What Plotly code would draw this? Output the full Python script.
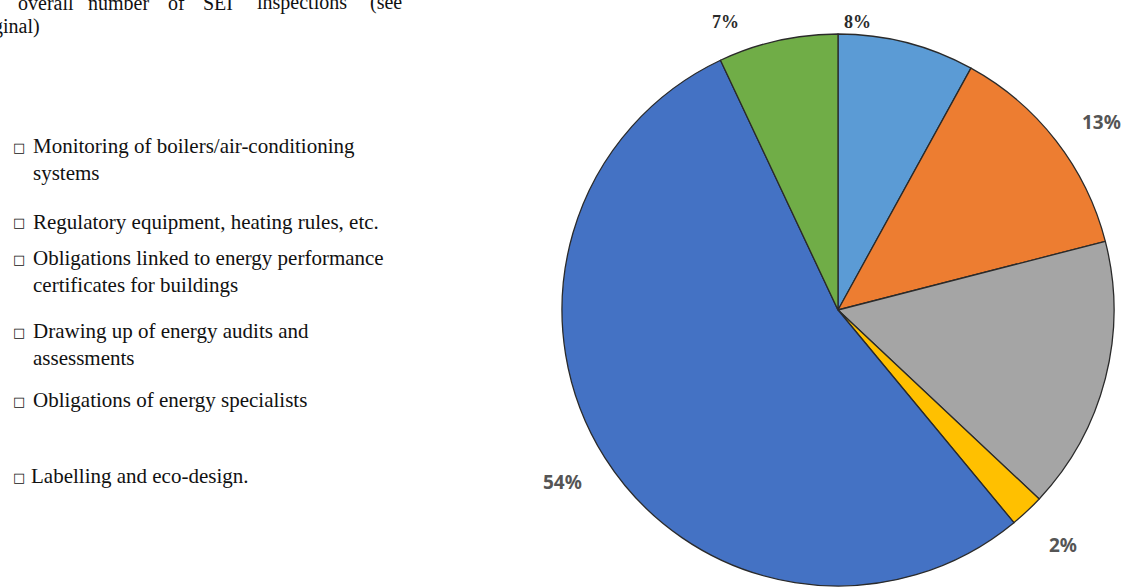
import plotly.graph_objects as go

# Share of SEI inspections by topic (clockwise from 12 o'clock)
categories = [
    "Monitoring of boilers/air-conditioning systems",
    "Regulatory equipment, heating rules, etc.",
    "Obligations linked to energy performance certificates for buildings",
    "Drawing up of energy audits and assessments",
    "Obligations of energy specialists",
    "Labelling and eco-design.",
]
shares = [8, 13, 16, 2, 54, 7]
slice_colors = ["#5B9BD5", "#ED7D31", "#A5A5A5", "#FFC000", "#4472C4", "#70AD47"]

# Legend entries, each wrapped as printed beside the chart
legend_lines = [
    ["Monitoring of boilers/air-conditioning", "systems"],
    ["Regulatory equipment, heating rules, etc."],
    ["Obligations linked to energy performance", "certificates for buildings"],
    ["Drawing up of energy audits and", "assessments"],
    ["Obligations of energy specialists"],
    ["Labelling and eco-design."],
]

W, H = 1124, 588

fig = go.Figure(
    go.Pie(
        labels=categories,
        values=shares,
        sort=False,
        direction="clockwise",
        rotation=0,
        marker=dict(colors=slice_colors, line=dict(color="#2a2a2a", width=1.3)),
        textinfo="none",
        hoverinfo="label+percent",
        showlegend=False,
        domain=dict(x=[562 / W, 1114 / W], y=[1 - 586 / H, 1 - 34 / H]),
    )
)

annotations = []


def px(x, y, text, size, family, color, bold=False, xanchor="left"):
    annotations.append(
        dict(
            x=x / W, y=1 - y / H, xref="paper", yref="paper",
            text=f"<b>{text}</b>" if bold else text,
            showarrow=False, xanchor=xanchor, yanchor="middle",
            font=dict(size=size, family=family, color=color),
        )
    )


serif = "Liberation Serif"
sans = "Noto Sans"

# Running text above the legend (justified paragraph)
header_words = [("overall", 16), ("number", 86), ("of", 166), ("SEI", 201),
                ("inspections", 255), ("(see", 368)]
for word, x in header_words:
    px(x, 3, word, 20, serif, "#111")
px(-9, 26, "ginal)", 20, serif, "#111")

# Legend block: bullet square, first line, optional continuation line
entry_y = [146, 222, 258, 331, 400, 476]
for i, (lines, y) in enumerate(zip(legend_lines, entry_y)):
    last = i == len(legend_lines) - 1
    px(11, y + 1, "□", 13, "DejaVu Sans", "#111")
    x_text = 29 if last else 31
    px(x_text, y, lines[0], 21, serif, "#111")
    if len(lines) > 1:
        px(31, y + 27, lines[1], 21, serif, "#111")

# Percentage labels around the pie (the grey slice carries no label)
label_pos = [(857, 22, serif, "#2b2b2b"), (1101, 122, sans, "#555555"),
             None, (1063, 545, sans, "#555555"), (562, 482, sans, "#555555"),
             (725, 22, serif, "#2b2b2b")]
for v, pos in zip(shares, label_pos):
    if pos is None:
        continue
    x, y, fam, col = pos
    px(x, y, f"{v}%", 18 if fam == serif else 19, fam, col, bold=True, xanchor="center")

fig.update_layout(
    width=W, height=H,
    margin=dict(l=0, r=0, t=0, b=0),
    paper_bgcolor="white",
    plot_bgcolor="white",
    annotations=annotations,
)

fig.write_html("out.html")
